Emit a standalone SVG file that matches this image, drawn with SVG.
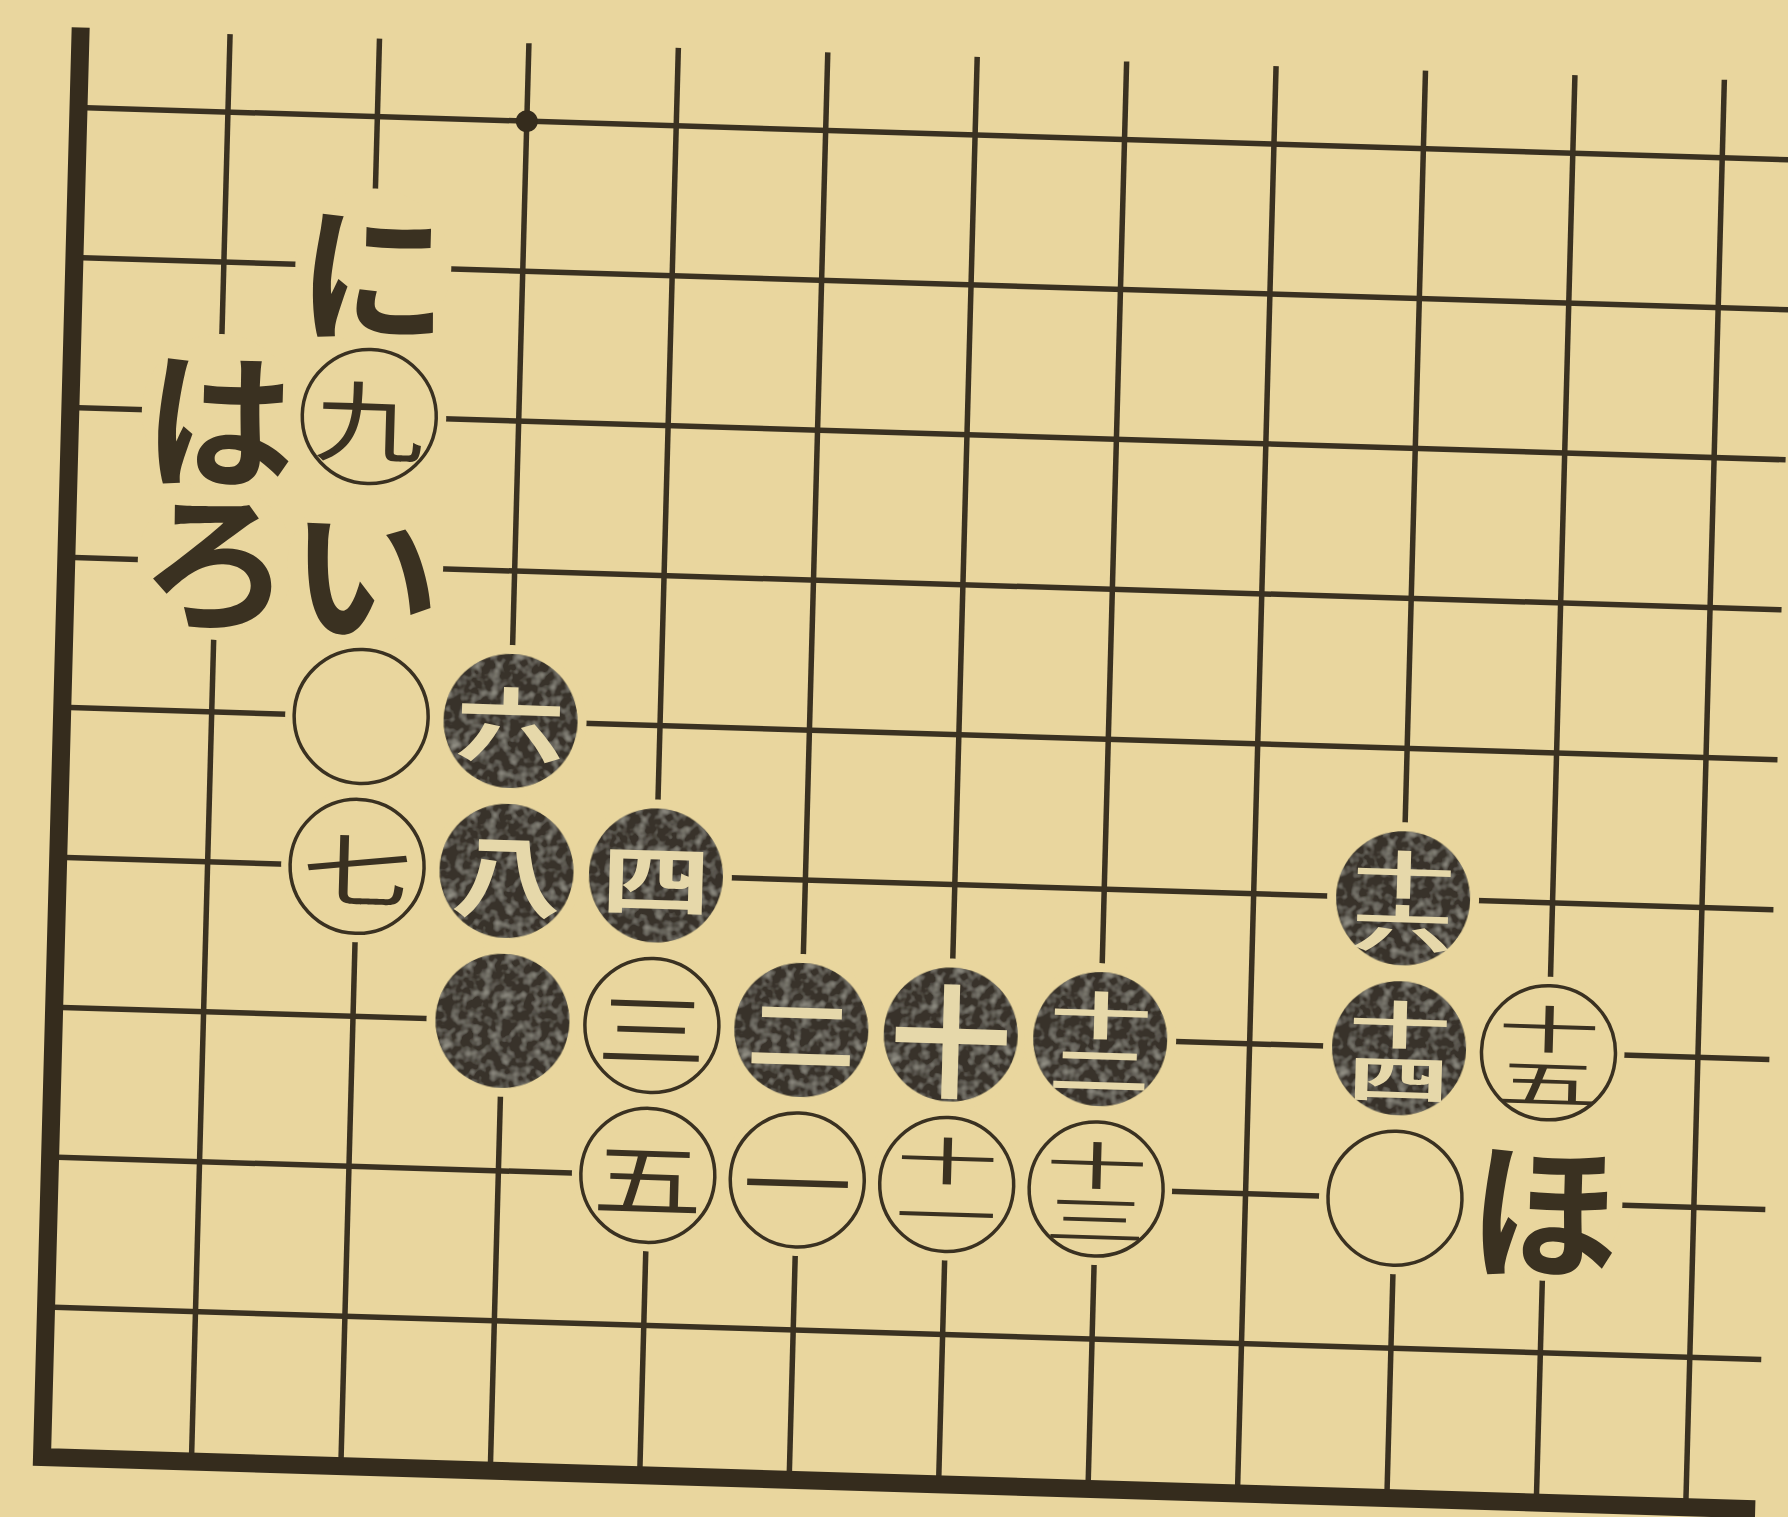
<svg xmlns="http://www.w3.org/2000/svg" width="1788" height="1517" viewBox="0 0 1788 1517">
<defs>
<style>
.grid line{stroke:#3a3121;stroke-width:5.5;stroke-linecap:butt}
.border{fill:none;stroke:#352c1d;stroke-width:18;stroke-linejoin:miter}
.halo{fill:#e9d69e}
.w{fill:#e9d69e;stroke:#3a3121;stroke-width:3.5}
.b{fill:#37332a;filter:url(#mottle)}
.num{font-family:"Noto Sans CJK JP","Noto Sans CJK SC",sans-serif;text-anchor:middle;dominant-baseline:central}
.nw{fill:#3a3121;font-weight:400}
.nb{fill:#e6d8aa;font-weight:700}
.s1{font-size:110px}
.s2{font-size:102px}
.lbl{font-family:"Noto Sans CJK JP","Noto Sans CJK SC",sans-serif;font-weight:700;font-size:150px;fill:#3a3121;text-anchor:middle;dominant-baseline:central}
</style>
<filter id="mottle" x="-10%" y="-10%" width="120%" height="120%">
<feTurbulence type="fractalNoise" baseFrequency="0.1" numOctaves="2" seed="4" result="n"/>
<feColorMatrix in="n" type="matrix" values="0 0 0 0 0.42  0 0 0 0 0.41  0 0 0 0 0.35  0 0 0 1.4 -0.62" result="spots"/>
<feComposite in="spots" in2="SourceGraphic" operator="in" result="s"/>
<feMerge><feMergeNode in="SourceGraphic"/><feMergeNode in="s"/></feMerge>
</filter>
</defs>
<rect class="bg" x="0" y="0" width="1788" height="1517" fill="#e9d69e"/>
<g id="board" transform="matrix(0.99953 0.03054 -0.02705 0.99963 42 1457)">
<g id="connectors" class="grid">
<line x1="0" y1="-150" x2="1716" y2="-150"/>
<line x1="0" y1="-300" x2="1716" y2="-300"/>
<line x1="0" y1="-450" x2="1716" y2="-450"/>
<line x1="0" y1="-600" x2="1716" y2="-600"/>
<line x1="0" y1="-750" x2="1716" y2="-750"/>
<line x1="0" y1="-900" x2="1716" y2="-900"/>
<line x1="0" y1="-1050" x2="1716" y2="-1050"/>
<line x1="0" y1="-1200" x2="1716" y2="-1200"/>
<line x1="0" y1="-1350" x2="1716" y2="-1350"/>
<line x1="149.5" y1="0" x2="149.5" y2="-1428"/>
<line x1="299" y1="0" x2="299" y2="-1428"/>
<line x1="448.5" y1="0" x2="448.5" y2="-1428"/>
<line x1="598" y1="0" x2="598" y2="-1428"/>
<line x1="747.5" y1="0" x2="747.5" y2="-1428"/>
<line x1="897" y1="0" x2="897" y2="-1428"/>
<line x1="1046.5" y1="0" x2="1046.5" y2="-1428"/>
<line x1="1196" y1="0" x2="1196" y2="-1428"/>
<line x1="1345.5" y1="0" x2="1345.5" y2="-1428"/>
<line x1="1495" y1="0" x2="1495" y2="-1428"/>
<line x1="1644.5" y1="0" x2="1644.5" y2="-1428"/>
</g>
<path id="edge" class="border" d="M0,-1430 V0 H1714"/>
<circle id="star" cx="448.5" cy="-1350" r="11" fill="#352c1d"/>
<g id="halos" class="halo">
<circle cx="299" cy="-1200" r="78"/>
<circle cx="149.5" cy="-1050" r="78"/>
<circle cx="299" cy="-1050" r="77"/>
<circle cx="149.5" cy="-900" r="78"/>
<circle cx="299" cy="-900" r="78"/>
<circle cx="299" cy="-750" r="76"/>
<circle cx="448.5" cy="-750" r="76"/>
<circle cx="299" cy="-600" r="76"/>
<circle cx="448.5" cy="-600" r="76"/>
<circle cx="598" cy="-600" r="76"/>
<circle cx="1345.5" cy="-600" r="76"/>
<circle cx="448.5" cy="-450" r="76"/>
<circle cx="598" cy="-450" r="76"/>
<circle cx="747.5" cy="-450" r="76"/>
<circle cx="897" cy="-450" r="76"/>
<circle cx="1046.5" cy="-450" r="76"/>
<circle cx="1345.5" cy="-450" r="76"/>
<circle cx="1495" cy="-450" r="76"/>
<circle cx="598" cy="-300" r="76"/>
<circle cx="747.5" cy="-300" r="76"/>
<circle cx="897" cy="-300" r="76"/>
<circle cx="1046.5" cy="-300" r="76"/>
<circle cx="1345.5" cy="-300" r="76"/>
<circle cx="1495" cy="-300" r="78"/>
</g>
<g id="labels">
<text id="label-ni" class="lbl" x="299" y="-1200">に</text>
<text id="label-ha" class="lbl" x="149.5" y="-1050">は</text>
<text id="label-ro" class="lbl" x="149.5" y="-908">ろ</text>
<text id="label-i" class="lbl" x="299" y="-900">い</text>
<text id="label-ho" class="lbl" x="1495" y="-300">ほ</text>
</g>
<g id="stones">
<g id="w9" transform="translate(299,-1050)"><circle class="w" r="67"/><text class="num nw s1" transform="scale(1,0.8)">九</text></g>
<g id="w-a" transform="translate(299,-750)"><circle class="w" r="67"/></g>
<g id="b6" transform="translate(448.5,-750)"><circle class="b" r="67"/><text class="num nb s1" transform="scale(1,0.74)">六</text></g>
<g id="w7" transform="translate(299,-600)"><circle class="w" r="67"/><text class="num nw s1" transform="scale(1,0.72)">七</text></g>
<g id="b8" transform="translate(448.5,-600)"><circle class="b" r="67"/><text class="num nb s1" transform="scale(1,0.82)">八</text></g>
<g id="b4" transform="translate(598,-600)"><circle class="b" r="67"/><text class="num nb s1" transform="scale(1,0.7)">四</text></g>
<g id="b16" transform="translate(1345.5,-600)"><circle class="b" r="67"/><text class="num nb s2" transform="scale(1,0.5)"><tspan x="0" y="-54">十</tspan><tspan x="0" y="54">六</tspan></text></g>
<g id="b-a" transform="translate(448.5,-450)"><circle class="b" r="67"/></g>
<g id="w3" transform="translate(598,-450)"><circle class="w" r="67"/><text class="num nw s1" transform="scale(1,0.72)">三</text></g>
<g id="b2" transform="translate(747.5,-450)"><circle class="b" r="67"/><text class="num nb s1" transform="scale(1,0.72)">二</text></g>
<g id="b10" transform="translate(897,-450)"><circle class="b" r="67"/><text class="num nb" font-size="122">十</text></g>
<g id="b12" transform="translate(1046.5,-450)"><circle class="b" r="67"/><text class="num nb s2" transform="scale(1,0.5)"><tspan x="0" y="-54">十</tspan><tspan x="0" y="54">二</tspan></text></g>
<g id="b14" transform="translate(1345.5,-450)"><circle class="b" r="67"/><text class="num nb s2" transform="scale(1,0.5)"><tspan x="0" y="-54">十</tspan><tspan x="0" y="54">四</tspan></text></g>
<g id="w15" transform="translate(1495,-450)"><circle class="w" r="67"/><text class="num nw s2" transform="scale(1,0.5)"><tspan x="0" y="-54">十</tspan><tspan x="0" y="54">五</tspan></text></g>
<g id="w5" transform="translate(598,-300)"><circle class="w" r="67"/><text class="num nw s1" transform="scale(1,0.72)">五</text></g>
<g id="w1" transform="translate(747.5,-300)"><circle class="w" r="67"/><text class="num nw s1" transform="scale(1,0.72)">一</text></g>
<g id="w11" transform="translate(897,-300)"><circle class="w" r="67"/><text class="num nw s2" transform="scale(1,0.5)"><tspan x="0" y="-54">十</tspan><tspan x="0" y="54">一</tspan></text></g>
<g id="w13" transform="translate(1046.5,-300)"><circle class="w" r="67"/><text class="num nw s2" transform="scale(1,0.5)"><tspan x="0" y="-54">十</tspan><tspan x="0" y="54">三</tspan></text></g>
<g id="w-b" transform="translate(1345.5,-300)"><circle class="w" r="67"/></g>
</g>
</g>
</svg>
